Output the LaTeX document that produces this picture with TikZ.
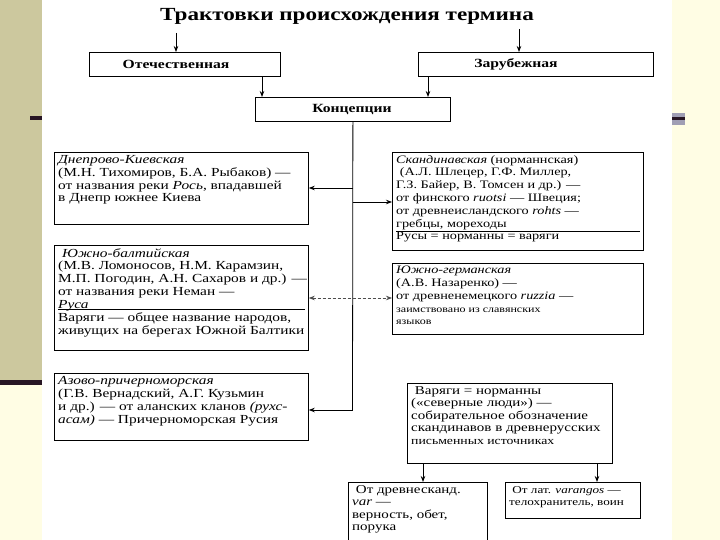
\documentclass[tikz,border=0pt]{standalone}
\usepackage{fontspec}
\setmainfont{Liberation Serif}
\newfontfamily\scan[FakeStretch=1.25]{Liberation Serif}
\usetikzlibrary{arrows.meta}
\definecolor{khaki}{RGB}{204,200,158}
\definecolor{paleyel}{RGB}{255,253,228}
\definecolor{darkbar}{RGB}{40,22,36}
\definecolor{slate}{RGB}{160,158,180}
\begin{document}
\begin{tikzpicture}[x=1pt,y=-1pt,
  box/.style={draw, line width=0.8pt, inner sep=0pt, anchor=north west},
  txt/.style={anchor=north west, align=left, inner sep=0pt, font=\scan\fontsize{11.4}{12.8}\selectfont},
  txtl/.style={txt, font=\scan\fontsize{12.3}{12.9}\selectfont},
  txtv/.style={txt, font=\scan\fontsize{12}{12.6}\selectfont},
  txts/.style={txt, font=\scan\fontsize{10.5}{12.6}\selectfont},
  lbl/.style={font=\scan\bfseries\fontsize{12.5}{14}\selectfont},
  arr/.style={-{Stealth[length=6pt,width=4.5pt]}, line width=0.8pt},
  arrtwo/.style={{Stealth[length=6pt,width=4.5pt]}-{Stealth[length=6pt,width=4.5pt]}, line width=0.8pt, dashed, dash pattern=on 3pt off 2pt, draw=black!70},
  sep/.style={line width=0.6pt}]
\useasboundingbox (0,0) rectangle (720,540);
\clip (0,0) rectangle (720,540);
% slide background
\fill[white] (0,0) rectangle (720,540);
\fill[khaki] (0,0) rectangle (42,383);
\fill[paleyel] (0,385) rectangle (42,540);
\fill[darkbar] (0,380) rectangle (42,385);
\fill[darkbar] (30,116) rectangle (42,120);
\fill[paleyel] (672,0) rectangle (720,540);
\fill[slate] (672,113) rectangle (685,125);
\fill[darkbar] (672,117) rectangle (685,120);
% title
\node[font=\scan\bfseries\fontsize{18.5}{22}\selectfont] (title) at (347,16) {Трактовки происхождения термина};
% top boxes
\node[box, minimum width=191, minimum height=24] (ot) at (89,52) {};
\node[lbl] (otl) at (176,64) {Отечественная};
\node[box, minimum width=235, minimum height=24] (zr) at (418,52) {};
\node[lbl] (zrl) at (516,64) {Зарубежная};
\node[box, minimum width=195, minimum height=24] (kc) at (255,97) {};
\node[lbl] (kcl) at (352,109) {Концепции};
% left column boxes
\node[box, minimum width=254, minimum height=72] (dk) at (54,152) {};
\node[txtl] (dkt) at (58,155) {\textit{Днепрово-Киевская}\\(М.Н. Тихомиров, Б.А. Рыбаков) —\\от названия реки \textit{Рось}, впадавшей\\в Днепр южнее Киева};
\node[box, minimum width=254, minimum height=105] (yb) at (54,245) {};
\node[txtl] (ybt) at (58,248) {\ \textit{Южно-балтийская}\\(М.В. Ломоносов, Н.М. Карамзин,\\М.П. Погодин, А.Н. Сахаров и др.) —\\от названия реки Неман —\\\textit{Руса}\\Варяги — общее название народов,\\живущих на берегах Южной Балтики};
\node[box, minimum width=254, minimum height=67] (az) at (54,373) {};
\node[txtl] (azt) at (58,376) {\textit{Азово-причерноморская}\\(Г.В. Вернадский, А.Г. Кузьмин\\и др.) — от аланских кланов \textit{(рухс-}\\\textit{асам)} — Причерноморская Русия};
% right column boxes
\node[box, minimum width=251, minimum height=98] (sk) at (392,152) {};
\node[txt] (skt) at (396,155) {\textit{Скандинавская} (норманнская)\\\ (А.Л. Шлецер, Г.Ф. Миллер,\\Г.З. Байер, В. Томсен и др.) —\\от финского \textit{ruotsi} — Швеция;\\от древнеисландского \textit{rohts} —\\гребцы, мореходы\\Русы = норманны = варяги};
\node[box, minimum width=251, minimum height=71] (yg) at (392,263) {};
\node[txt] (ygt) at (396,266) {\textit{Южно-германская}\\(А.В. Назаренко) —\\от древненемецкого \textit{ruzzia} —\\{\fontsize{9.6}{12.8}\selectfont заимствовано из славянских}\\{\fontsize{9.6}{12.8}\selectfont языков}};
\node[box, minimum width=205, minimum height=80] (vn) at (407,383) {};
\node[txtv] (vnt) at (411,386) {\ Варяги = норманны\\(«северные люди») —\\собирательное обозначение\\скандинавов в древнерусских\\{\fontsize{11}{12.6}\selectfont письменных источниках}};
\node[box, minimum width=139, minimum height=80] (dr) at (348,482) {};
\node[txtv] (drt) at (352,485) {\ От древнесканд.\\\textit{var} —\\верность, обет,\\порука};
\node[box, minimum width=135, minimum height=36] (lt) at (505,482) {};
\node[txts] (ltt) at (509,486) {\ От лат. \textit{varangos} —\\телохранитель, воин};
% separators
\draw[sep] (58,309) -- (305,309);
\draw[sep] (396,231) -- (640,231);
% connectors
\coordinate (s1) at (176,33);
\draw[arr] (s1) -- (s1 |- ot.north);
\coordinate (s2) at (519,29);
\draw[arr] (s2) -- (s2 |- zr.north);
\coordinate (c1) at (262,0);
\draw[arr] (c1 |- ot.south) -- (c1 |- kc.north);
\coordinate (c2) at (428,0);
\draw[arr] (c2 |- zr.south) -- (c2 |- kc.north);
\coordinate (tend) at (352.5,410);
\draw[line width=0.8pt] (kc.south) -- (tend);
\coordinate (j1) at (352.5,188);
\draw[arr] (j1) -- (j1 -| dk.east);
\coordinate (j2) at (352.5,202);
\draw[arr] (j2) -- (j2 -| sk.west);
\coordinate (j3) at (352.5,298);
\draw[arrtwo] (j3 -| yb.east) -- (j3 -| yg.west);
\draw[arr] (tend) -- (tend -| az.east);
\coordinate (v1) at (423,0);
\draw[arr] (v1 |- vn.south) -- (v1 |- dr.north);
\coordinate (v2) at (597,0);
\draw[arr] (v2 |- vn.south) -- (v2 |- lt.north);
\end{tikzpicture}
\end{document}
